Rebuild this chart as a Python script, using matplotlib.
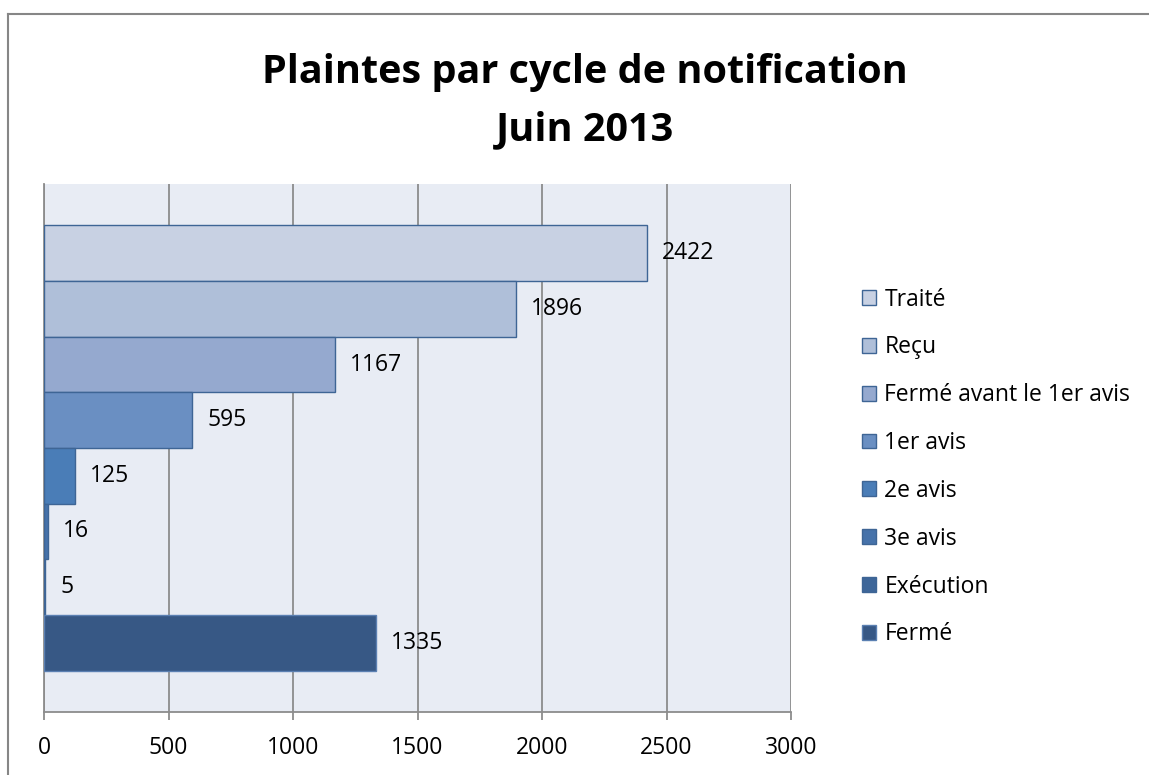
import matplotlib
matplotlib.use("Agg")
import matplotlib.pyplot as plt
from matplotlib.lines import Line2D

categories = ["Traité", "Reçu", "Fermé avant le 1er avis", "1er avis",
              "2e avis", "3e avis", "Exécution", "Fermé"]
values = [2422, 1896, 1167, 595, 125, 16, 5, 1335]
colors = ["#C8D1E3", "#AFBFD9", "#95A9CF", "#6A8FC2",
          "#4A7DB7", "#4672AA", "#3E6699", "#375885"]
xticks = [0, 500, 1000, 1500, 2000, 2500, 3000]
title = "Plaintes par cycle de notification\nJuin 2013"

plt.rcParams['font.family'] = ['Open Sans', 'DejaVu Sans']

W, H = 1149, 775
fig = plt.figure(figsize=(W/100, H/100), dpi=100)

# outer chart border (top and left visible)
fig.add_artist(Line2D([8/W, 8/W], [0, 1 - 13.5/H], transform=fig.transFigure,
                      color="#868686", lw=1.5))
fig.add_artist(Line2D([8/W, 1], [1 - 13.5/H, 1 - 13.5/H], transform=fig.transFigure,
                      color="#868686", lw=1.5))

ax = fig.add_axes([44/W, 1 - 712/H, (791 - 44)/W, (712 - 184)/H])
ax.set_facecolor("#E8ECF4")

fs = 16.5
pad = 0.745
for i, (cat, v, c) in enumerate(zip(categories, values, colors)):
    ax.barh(i, v, height=1.0, color=c, edgecolor="#3E6595" if i < 7 else "#5B80B2",
            linewidth=1.0, label=cat, zorder=3)
    ax.text(v + 60, i, str(v), va="center", ha="left", fontsize=fs, zorder=4)

ax.set_ylim(len(values) - 1 + 0.5 + pad, -0.5 - pad)
ax.set_xlim(xticks[0], xticks[-1])
ax.set_xticks(xticks)
ax.set_xticklabels([str(t) for t in xticks], fontsize=fs)
ax.set_yticks([])
ax.grid(axis="x", color="#8C8C8C", linewidth=1.3, zorder=1)
ax.tick_params(axis="x", length=6, width=1.3, color="#8C8C8C", pad=11, direction="out")
for s in ["top", "right"]:
    ax.spines[s].set_visible(False)
ax.spines["left"].set_color("#8C8C8C")
ax.spines["bottom"].set_color("#8C8C8C")
ax.spines["left"].set_linewidth(1.3)
ax.spines["bottom"].set_linewidth(1.3)

fig.text(585/W, 1 - 101/H, title, ha="center", va="center", fontsize=28.5,
         fontweight="bold", linespacing=1.6)

handles, labels = ax.get_legend_handles_labels()
leg = fig.legend(handles, labels, loc="center left", bbox_to_anchor=(853/W, 1 - 467/H),
                 frameon=False, fontsize=fs, handlelength=0.62, handleheight=0.62,
                 handletextpad=0.35, labelspacing=1.04, borderaxespad=0)

fig.savefig("out.png", dpi=100, facecolor="white")
